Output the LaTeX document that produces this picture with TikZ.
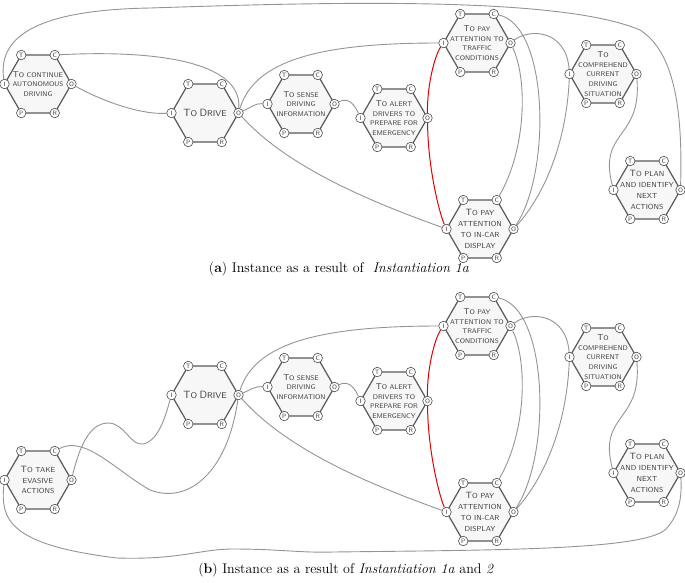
\documentclass[tikz,border=0pt]{standalone}
\usepackage{fontspec}
\usetikzlibrary{backgrounds}
\begin{document}
\begin{tikzpicture}[x=1pt,y=-1pt,
  hexline/.style={draw=black!65,line width=1.2pt,fill=black!3},
  corner/.style={circle,draw=black!70,fill=white,line width=0.6pt,inner sep=0pt,minimum size=9.5pt,font=\sffamily\fontsize{6.3}{6}\selectfont,text=black!75},
  htext/.style={align=center,font=\sffamily\fontsize{6.8}{9.6}\selectfont,text=black!75},
  bigtext/.style={align=center,font=\sffamily\fontsize{7.3}{10.8}\selectfont,text=black!75},
  link/.style={draw=black!42,line width=0.9pt},
  redlink/.style={draw=red!90!black,line width=1pt},
  captext/.style={font=\fontsize{14}{16}\selectfont}]
\useasboundingbox (0,0) rectangle (685,582);
\newcommand\sck[1]{{\fontsize{1.25em}{1em}\selectfont #1}}
\newcommand\drivetxt{{\fontsize{10.5}{10}\selectfont T}{\fontsize{8.4}{8}\selectfont O} {\fontsize{10.5}{10}\selectfont D}{\fontsize{8.4}{8}\selectfont RIVE}}
\newcommand\hexa[5][htext]{%
  \draw[hexline] (#3-16.75,#4-29) -- (#3+16.75,#4-29) -- (#3+33.5,#4) -- (#3+16.75,#4+29) -- (#3-16.75,#4+29) -- (#3-33.5,#4) -- cycle;
  \node[#1] (#2txt) at (#3,#4) {#5};
  \node[corner] (#2T) at (#3-16.75,#4-29) {T};
  \node[corner] (#2C) at (#3+16.75,#4-29) {C};
  \node[corner] (#2O) at (#3+33.5,#4) {O};
  \node[corner] (#2R) at (#3+16.75,#4+29) {R};
  \node[corner] (#2P) at (#3-16.75,#4+29) {P};
  \node[corner] (#2I) at (#3-33.5,#4) {I};
}
% ---------- panel (a) ----------
\hexa{aA}{38}{84}{\sck{T}O CONTINUE\\AUTONOMOUS\\DRIVING}
\hexa{aB}{205}{113}{\drivetxt}
\hexa{aC}{301}{104}{\sck{T}O SENSE\\DRIVING\\INFORMATION}
\hexa{aD}{394}{118}{\sck{T}O ALERT\\DRIVERS TO\\PREPARE FOR\\EMERGENCY}
\hexa{aE}{477}{43}{\sck{T}O PAY\\ATTENTION TO\\TRAFFIC\\CONDITIONS}
\hexa[bigtext]{aF}{480}{229}{\sck{T}O PAY\\ATTENTION\\TO IN-CAR\\DISPLAY}
\hexa{aG}{603}{74}{\sck{T}O\\COMPREHEND\\CURRENT\\DRIVING\\SITUATION}
\hexa[bigtext]{aH}{647}{190}{\sck{T}O PLAN\\AND IDENTIFY\\NEXT\\ACTIONS}
\begin{pgfonlayer}{background}
\draw[link] (aAC) .. controls (150,50) and (242,60) .. (aBO);
\draw[link] (aAO) .. controls (100,100) and (140,115) .. (aBI);
\draw[link] (aAI) .. controls (-2,40) and (30,10) .. (150,8) .. controls (330,2) and (560,-4) .. (640,30) .. controls (680,55) and (682,130) .. (aHO);
\draw[link] (aBO) .. controls (250,108) and (255,103) .. (aCI);
\draw[link] (aBO) .. controls (255,60) and (320,43) .. (aEI);
\draw[link] (aBO) .. controls (290,170) and (380,205) .. (aFI);
\draw[link] (aCO) .. controls (350,96) and (356,108) .. (aDI);
\draw[redlink] (aDO) .. controls (427,85) and (435,55) .. (aEI);
\draw[redlink] (aDO) .. controls (428,170) and (440,215) .. (aFI);
\draw[link] (aEC) .. controls (548,25) and (552,170) .. (aFO);
\draw[link] (aEO) .. controls (528,80) and (526,150) .. (aFC);
\draw[link] (aEO) .. controls (530,28) and (566,30) .. (aGI);
\draw[link] (aGI) .. controls (566,150) and (540,200) .. (aFO);
\draw[link] (aGO) .. controls (642,140) and (598,130) .. (aHI);
\end{pgfonlayer}
\node[captext] (capa) at (339,269) {(\textbf{a}) Instance as a result of \ \textit{Instantiation 1a}};
% ---------- panel (b) ----------
\hexa[bigtext]{bA}{38}{480}{\sck{T}O TAKE\\EVASIVE\\ACTIONS}
\hexa{bB}{205}{395}{\drivetxt}
\hexa{bC}{301}{387}{\sck{T}O SENSE\\DRIVING\\INFORMATION}
\hexa{bD}{394}{401}{\sck{T}O ALERT\\DRIVERS TO\\PREPARE FOR\\EMERGENCY}
\hexa{bE}{477}{326}{\sck{T}O PAY\\ATTENTION TO\\TRAFFIC\\CONDITIONS}
\hexa[bigtext]{bF}{480}{512}{\sck{T}O PAY\\ATTENTION\\TO IN-CAR\\DISPLAY}
\hexa{bG}{603}{357}{\sck{T}O\\COMPREHEND\\CURRENT\\DRIVING\\SITUATION}
\hexa[bigtext]{bH}{647}{473}{\sck{T}O PLAN\\AND IDENTIFY\\NEXT\\ACTIONS}
\begin{pgfonlayer}{background}
\draw[link] (bAO) .. controls (82,435) and (95,423) .. (108,423) .. controls (125,423) and (130,446) .. (143,444) .. controls (160,441) and (167,410) .. (bBI);
\draw[link] (bAC) .. controls (85,435) and (115,470) .. (150,490) .. controls (190,505) and (228,470) .. (bBO);
\draw[link] (bAI) .. controls (0,520) and (10,545) .. (117,558) .. controls (180,560) and (200,549) .. (233,549) .. controls (280,549) and (300,553) .. (333,552) .. controls (500,550) and (640,550) .. (665,530) .. controls (680,515) and (682,495) .. (bHO);
\draw[link] (bBO) .. controls (250,390) and (255,386) .. (bCI);
\draw[link] (bBO) .. controls (255,343) and (320,326) .. (bEI);
\draw[link] (bBO) .. controls (290,453) and (380,488) .. (bFI);
\draw[link] (bCO) .. controls (350,379) and (356,391) .. (bDI);
\draw[redlink] (bDO) .. controls (427,368) and (435,338) .. (bEI);
\draw[redlink] (bDO) .. controls (428,453) and (440,498) .. (bFI);
\draw[link] (bEC) .. controls (548,308) and (552,453) .. (bFO);
\draw[link] (bEO) .. controls (528,363) and (526,433) .. (bFC);
\draw[link] (bEO) .. controls (530,311) and (566,313) .. (bGI);
\draw[link] (bGI) .. controls (566,433) and (540,483) .. (bFO);
\draw[link] (bGO) .. controls (642,423) and (598,413) .. (bHI);
\end{pgfonlayer}
\node[captext] (capb) at (346,570) {(\textbf{b}) Instance as a result of \textit{Instantiation 1a} and \textit{2}};
\end{tikzpicture}
\end{document}
